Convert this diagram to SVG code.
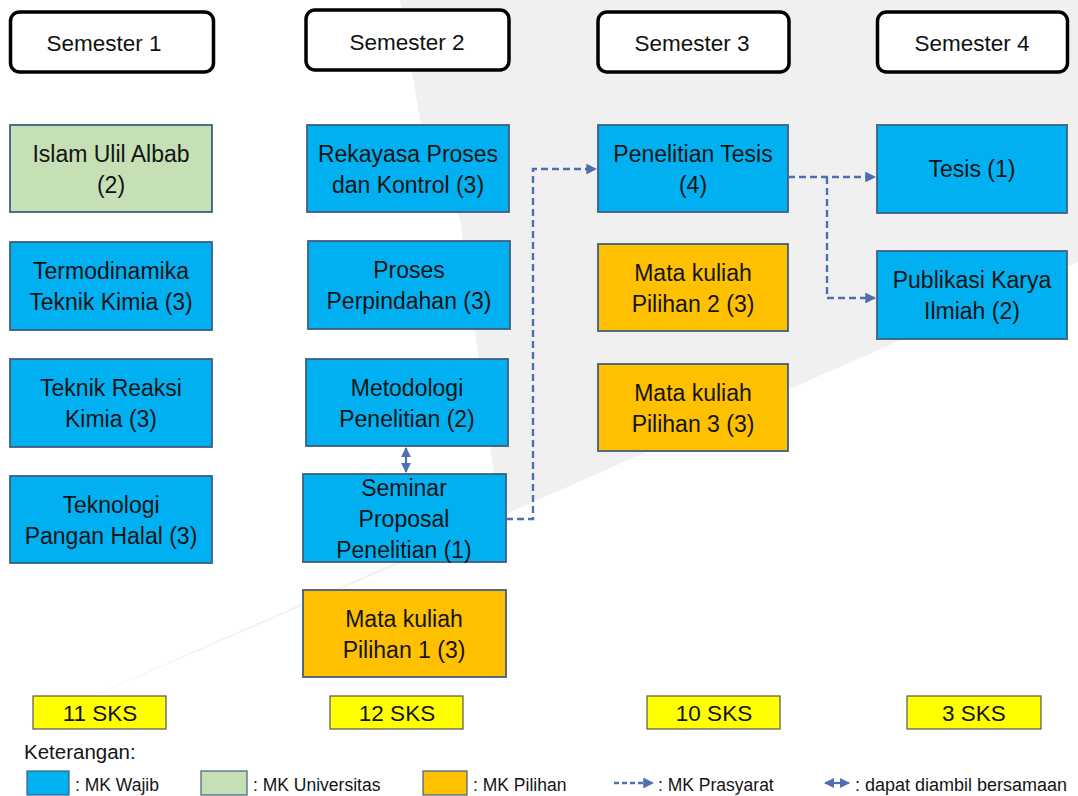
<svg xmlns="http://www.w3.org/2000/svg" width="1078" height="796" viewBox="0 0 1078 796">
<style>
.hdr{fill:#fff;stroke:#000;stroke-width:3.5}
.node{stroke:#3f5f80;stroke-width:1.8}
.wajib{fill:#00B0F0}
.univ{fill:#C5E0B4}
.pilih{fill:#FFC000}
.sks{fill:#FFFF00;stroke:#555;stroke-width:1.2}
text{font-family:"Liberation Sans",Arial,sans-serif;fill:#141414}
.t{font-size:23px;text-anchor:middle}
.h{font-size:22.5px;text-anchor:middle;fill:#111}
.s{font-size:22.5px;text-anchor:middle}
.l{font-size:17.5px}
.conn{fill:none;stroke:#4f6fb0;stroke-width:2.4;stroke-dasharray:7 4}
.dbl{fill:none;stroke:#4f6fb0;stroke-width:2.2}
</style>
<defs>
<marker id="ah" viewBox="0 0 10 10" refX="9" refY="5" markerWidth="4.5" markerHeight="4.5" orient="auto-start-reverse" markerUnits="strokeWidth">
<path d="M0,0 L10,5 L0,10 z" fill="#4f6fb0"/>
</marker>
</defs>
<rect width="1078" height="796" fill="#fff"/>
<polygon points="20,728 500,520 460,220 420,120 400,0 1078,0 1078,262" fill="#f0f0f0"/>

<g id="sem1"><rect class="hdr" x="10.5" y="12" width="203" height="60" rx="9"/><text class="h" x="104" y="51">Semester 1</text></g>
<g id="sem2"><rect class="hdr" x="306" y="10" width="203" height="60" rx="9"/><text class="h" x="407" y="50">Semester 2</text></g>
<g id="sem3"><rect class="hdr" x="598" y="12" width="191" height="60" rx="9"/><text class="h" x="692" y="51">Semester 3</text></g>
<g id="sem4"><rect class="hdr" x="877.5" y="12" width="190" height="60" rx="9"/><text class="h" x="972" y="51">Semester 4</text></g>

<g id="islam"><rect class="node univ" x="10" y="125" width="202" height="87"/><text class="t" x="111" y="162">Islam Ulil Albab</text><text class="t" x="111" y="193">(2)</text></g>
<g id="termo"><rect class="node wajib" x="10" y="242" width="202" height="88"/><text class="t" x="111" y="279">Termodinamika</text><text class="t" x="111" y="310">Teknik Kimia (3)</text></g>
<g id="reaksi"><rect class="node wajib" x="10" y="359" width="202" height="88"/><text class="t" x="111" y="396">Teknik Reaksi</text><text class="t" x="111" y="427">Kimia (3)</text></g>
<g id="pangan"><rect class="node wajib" x="10" y="476" width="202" height="87"/><text class="t" x="111" y="513">Teknologi</text><text class="t" x="111" y="544">Pangan Halal (3)</text></g>

<g id="rekayasa"><rect class="node wajib" x="307" y="125" width="202" height="87"/><text class="t" x="408" y="162">Rekayasa Proses</text><text class="t" x="408" y="193">dan Kontrol (3)</text></g>
<g id="proses"><rect class="node wajib" x="308" y="241" width="202" height="88"/><text class="t" x="409" y="278">Proses</text><text class="t" x="409" y="309">Perpindahan (3)</text></g>
<g id="metodologi"><rect class="node wajib" x="306" y="359" width="202" height="87"/><text class="t" x="407" y="396">Metodologi</text><text class="t" x="407" y="427">Penelitian  (2)</text></g>
<g id="seminar"><rect class="node wajib" x="303" y="474" width="203" height="88"/><text class="t" x="404" y="496">Seminar</text><text class="t" x="404" y="527">Proposal</text><text class="t" x="404" y="558">Penelitian  (1)</text></g>
<g id="pilihan1"><rect class="node pilih" x="303" y="590" width="203" height="87"/><text class="t" x="404" y="627">Mata kuliah</text><text class="t" x="404" y="658">Pilihan 1 (3)</text></g>

<g id="penelitian"><rect class="node wajib" x="598" y="125" width="190" height="87"/><text class="t" x="693" y="162">Penelitian  Tesis</text><text class="t" x="693" y="193">(4)</text></g>
<g id="pilihan2"><rect class="node pilih" x="598" y="244" width="190" height="87"/><text class="t" x="693" y="281">Mata kuliah</text><text class="t" x="693" y="312">Pilihan 2 (3)</text></g>
<g id="pilihan3"><rect class="node pilih" x="598" y="364" width="190" height="87"/><text class="t" x="693" y="401">Mata kuliah</text><text class="t" x="693" y="432">Pilihan 3 (3)</text></g>

<g id="tesis"><rect class="node wajib" x="877" y="125" width="190" height="88"/><text class="t" x="972" y="177">Tesis (1)</text></g>
<g id="publikasi"><rect class="node wajib" x="877" y="251" width="190" height="88"/><text class="t" x="972" y="288">Publikasi  Karya</text><text class="t" x="972" y="319">Ilmiah (2)</text></g>

<g id="connectors">
<path class="conn" d="M506,519 H533 V169 H596" marker-end="url(#ah)"/>
<path class="conn" d="M788,177 H875" marker-end="url(#ah)"/>
<path class="conn" d="M827,177 V298 H875" marker-end="url(#ah)"/>
<path class="dbl" d="M406,448 V472" marker-start="url(#ah)" marker-end="url(#ah)"/>
</g>

<g id="sks1"><rect class="sks" x="33" y="696" width="133" height="33"/><text class="s" x="100" y="721">11 SKS</text></g>
<g id="sks2"><rect class="sks" x="330" y="696" width="133" height="33"/><text class="s" x="397" y="721">12 SKS</text></g>
<g id="sks3"><rect class="sks" x="647" y="696" width="133" height="33"/><text class="s" x="714" y="721">10 SKS</text></g>
<g id="sks4"><rect class="sks" x="907" y="696" width="134" height="33"/><text class="s" x="974" y="721">3 SKS</text></g>

<g id="legend">
<text x="24" y="759" style="font-size:20.5px">Keterangan:</text>
<rect class="node wajib" x="27" y="771" width="42" height="24" style="stroke-width:1.2"/>
<text class="l" x="75" y="791">: MK Wajib</text>
<rect class="node univ" x="201" y="771" width="46" height="24" style="stroke-width:1.2"/>
<text class="l" x="253" y="791">: MK Universitas</text>
<rect class="node pilih" x="423" y="771" width="44" height="24" style="stroke-width:1.2"/>
<text class="l" x="473" y="791">: MK Pilihan</text>
<path class="conn" d="M614,783 H653" marker-end="url(#ah)" style="stroke-dasharray:5 3"/>
<text class="l" x="658" y="791">: MK Prasyarat</text>
<path class="dbl" d="M825,783 H849" marker-start="url(#ah)" marker-end="url(#ah)"/>
<text class="l" x="855" y="791" style="font-size:18px">: dapat diambil bersamaan</text>
</g>
</svg>
